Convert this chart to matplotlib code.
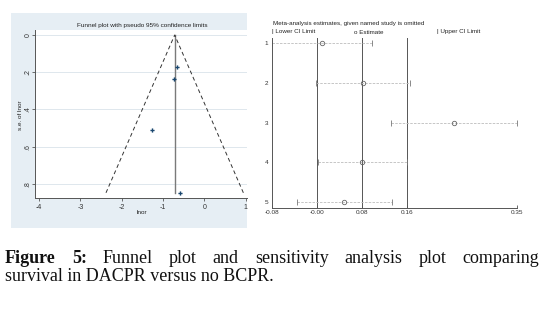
import matplotlib
matplotlib.use("Agg")
import matplotlib.pyplot as plt
from matplotlib.patches import Rectangle
import numpy as np

W, H = 544, 313

# funnel plot data
lnor = [-0.667, -0.746, -1.27, -0.587]
se_lnor = [0.172, 0.237, 0.51, 0.848]
pooled_lnor = -0.72
funnel_xticks = [-4, -3, -2, -1, 0, 1]
funnel_yticks = [0, 0.2, 0.4, 0.6, 0.8]
funnel_ylabels = ["0", ".2", ".4", ".6", ".8"]

# sensitivity (study omitted) data
studies = [1, 2, 3, 4, 5]
ci_lower = [-0.0805, -0.0038, 0.1292, 0.0008, -0.0374]
estimate = [0.0068, 0.0792, 0.2393, 0.0785, 0.0462]
ci_upper = [0.0951, 0.1628, 0.3513, 0.158, 0.1305]
overall = [-0.0015, 0.0775, 0.157]  # lower, estimate, upper

font = "Liberation Sans"
plt.rcParams['font.family'] = [font, 'DejaVu Sans']


def px(l, t, r, b):
    return [l / W, 1 - b / H, (r - l) / W, (b - t) / H]


def fx(x):
    return x / W


def fy(y):
    return 1 - y / H


fig = plt.figure(figsize=(W / 100, H / 100), dpi=100)

# stata-like background for the funnel panel
fig.patches.append(Rectangle((fx(11), fy(228)), fx(247) - fx(11), fy(13) - fy(228),
                             transform=fig.transFigure, facecolor='#e6eef4',
                             edgecolor='none', zorder=-5))

# ---- funnel plot ----
ax1 = fig.add_axes(px(35, 30, 247, 198))
ax1.set_zorder(2)
ax1.set_facecolor('white')
ax1.set_xlim(-4.1, 1.03)
ax1.set_ylim(0.876, -0.027)
for v in funnel_yticks:
    ax1.axhline(v, color='#dfe7ed', lw=0.7, zorder=0)
se_max = max(se_lnor)
ax1.plot([pooled_lnor, pooled_lnor], [0, se_max], color='#7a7a7a', lw=1.0)
ax1.plot([pooled_lnor - 1.96 * se_max, pooled_lnor, pooled_lnor + 1.96 * se_max],
         [se_max, 0, se_max], color='#333333', lw=0.7, ls=(0, (4, 3)))
ax1.plot(lnor, se_lnor, ls='none', marker='P', ms=3.0, color='#1a476f', mew=0)
ax1.set_xticks(funnel_xticks)
ax1.set_xticklabels([str(v) for v in funnel_xticks], fontsize=5)
ax1.set_yticks(funnel_yticks)
ax1.set_yticklabels(funnel_ylabels, fontsize=5, rotation=90, va='center')
for s in ['top', 'right']:
    ax1.spines[s].set_visible(False)
for s in ['left', 'bottom']:
    ax1.spines[s].set_color('#555555')
    ax1.spines[s].set_linewidth(0.7)
ax1.tick_params(axis='x', length=2.5, width=0.6, color='#555555', pad=1.5, labelcolor='#333333')
ax1.tick_params(axis='y', length=2.0, width=0.6, color='#555555', pad=0.3, labelcolor='#333333')
fig.text(fx(142), fy(25), "Funnel plot with pseudo 95% confidence limits",
         ha='center', va='center', fontsize=4.6, color='#222222')
fig.text(fx(20), fy(115), "s.e. of lnor", rotation=90, ha='center', va='center',
         fontsize=4.6, color='#222222')
fig.text(fx(142), fy(212), "lnor", ha='center', va='center', fontsize=4.6, color='#222222')

# ---- sensitivity plot ----
ax2 = fig.add_axes(px(272.3, 38, 517, 207.7))
ax2.set_xlim(min(ci_lower), max(ci_upper))
ax2.set_ylim(5.15, 0.866)
for v in overall:
    ax2.axvline(v, color='#555555', lw=0.7)
for y, lo, est, hi in zip(studies, ci_lower, estimate, ci_upper):
    ax2.plot([lo, hi], [y, y], color='#bdbdbd', lw=0.6, ls=(0, (3, 1.5)))
    ax2.plot([lo, hi], [y, y], ls='none', marker='|', ms=4, color='#777777', mew=0.6)
    ax2.plot([est], [y], ls='none', marker='o', ms=3.2, mfc='none', mec='#666666', mew=0.6)
xt = [min(ci_lower)] + overall + [max(ci_upper)]
ax2.set_xticks(xt)
ax2.set_xticklabels(["%.2f" % v for v in xt], fontsize=4.6)
ax2.set_yticks(studies)
ax2.set_yticklabels([str(s) for s in studies], fontsize=4.6)
ax2.tick_params(axis='y', length=0, pad=3, labelcolor='#333333')
ax2.tick_params(axis='x', length=2, width=0.6, direction='in', pad=1.5,
                color='#555555', labelcolor='#333333')
for s in ['top', 'right']:
    ax2.spines[s].set_visible(False)
for s in ['left', 'bottom']:
    ax2.spines[s].set_color('#555555')
    ax2.spines[s].set_linewidth(0.7)
fig.text(fx(273), fy(23), "Meta-analysis estimates, given named study is omitted",
         ha='left', va='center', fontsize=4.5, color='#222222')
fig.text(fx(272), fy(32), "| Lower CI Limit", ha='left', va='center', fontsize=4.5, color='#222222')
fig.text(fx(354), fy(32), "o Estimate", ha='left', va='center', fontsize=4.5, color='#222222')
fig.text(fx(437), fy(32), "| Upper CI Limit", ha='left', va='center', fontsize=4.5, color='#222222')

# ---- caption (justified first line) ----
cap_font = "Liberation Serif"
cap_size = 13
line1 = [("Figure", 'bold'), ("5:", 'bold'), ("Funnel", 'normal'), ("plot", 'normal'),
         ("and", 'normal'), ("sensitivity", 'normal'), ("analysis", 'normal'),
         ("plot", 'normal'), ("comparing", 'normal')]
line2 = "survival in DACPR versus no BCPR."

fig.canvas.draw()
renderer = fig.canvas.get_renderer()
texts = []
widths = []
for word, weight in line1:
    t = fig.text(0, fy(263), word, fontsize=cap_size, family=cap_font, weight=weight,
                 ha='left', va='baseline', color='#111111')
    bb = t.get_window_extent(renderer)
    texts.append(t)
    widths.append(bb.width)
x0, x1 = 5, 539
gap = (x1 - x0 - sum(widths)) / (len(widths) - 1)
x = x0
for t, w in zip(texts, widths):
    t.set_x(fx(x))
    x += w + gap
fig.text(fx(5), fy(281), line2, fontsize=cap_size, family=cap_font,
         ha='left', va='baseline', color='#111111')

fig.savefig("out.png", dpi=100)
